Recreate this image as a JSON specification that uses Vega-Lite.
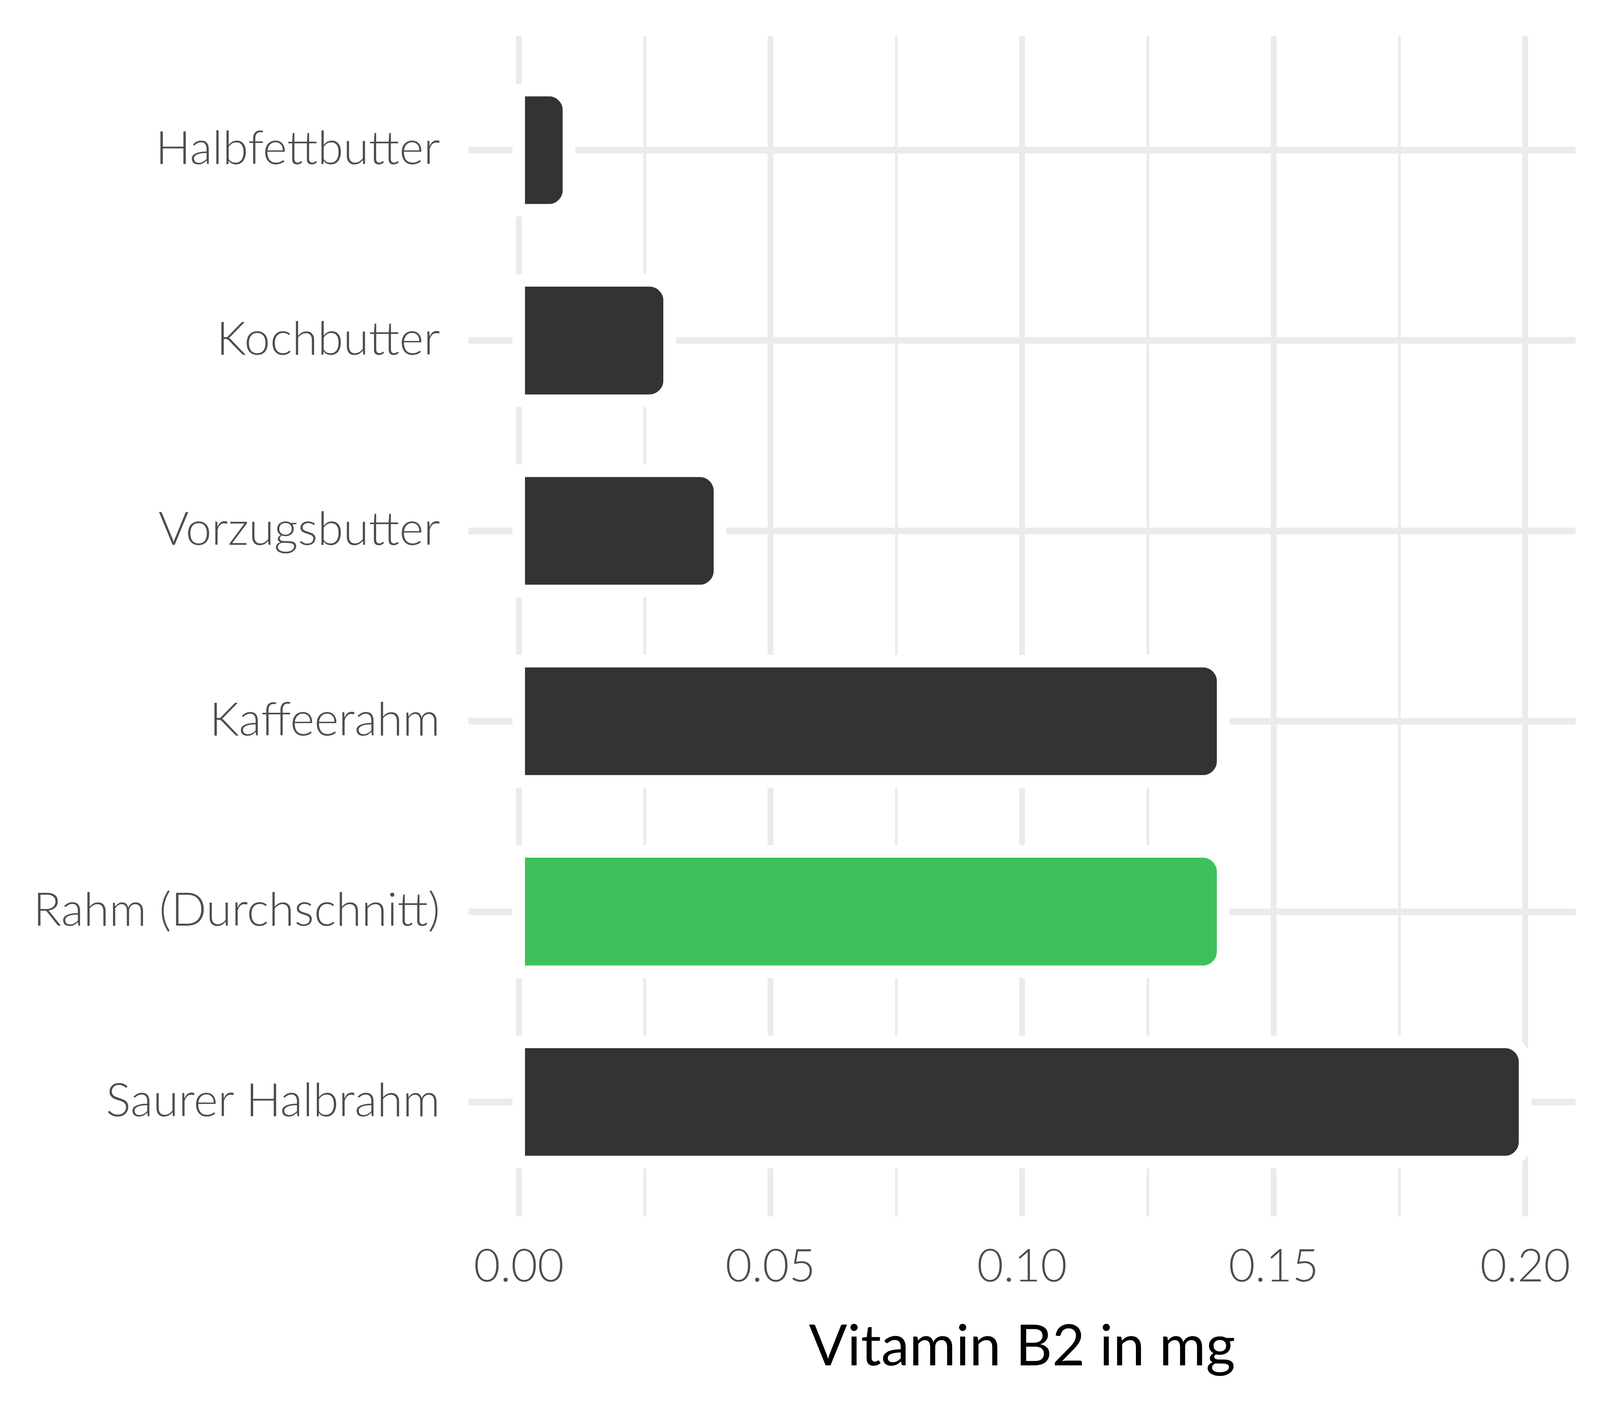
{
  "$schema": "https://vega.github.io/schema/vega-lite/v6.json",
  "autosize": {"type": "fit", "contains": "padding"},
  "width": "container",
  "height": 3600,
  "padding": {"left": 84, "top": 92, "right": 63, "bottom": 76},
  "background": "white",
  "config": {"view": {"stroke": null}, "font": "Lato"},
  "data": {"values": [
    {"name": "Halbfettbutter", "value": 0.01, "group": "other"},
    {"name": "Kochbutter", "value": 0.03, "group": "other"},
    {"name": "Vorzugsbutter", "value": 0.04, "group": "other"},
    {"name": "Kaffeerahm", "value": 0.14, "group": "other"},
    {"name": "Rahm (Durchschnitt)", "value": 0.14, "group": "highlight"},
    {"name": "Saurer Halbrahm", "value": 0.2, "group": "other"}
  ]},
  "resolve": {"axis": {"x": "independent"}},
  "layer": [
    {
      "mark": {"type": "tick", "opacity": 0},
      "encoding": {
        "x": {"field": "value", "type": "quantitative",
              "scale": {"domain": [-0.01, 0.21], "nice": false, "zero": false},
              "axis": {"orient": "top", "values": [0.025, 0.075, 0.125, 0.175], "labels": false, "ticks": false, "domain": false, "title": null, "grid": true, "gridColor": "#EBEBEB", "gridWidth": 7}},
        "y": {"field": "name", "type": "nominal", "sort": null,
              "scale": {"paddingInner": 0.368, "paddingOuter": 0.284},
              "axis": {"title": null, "domain": false, "ticks": false, "grid": true, "gridColor": "#EBEBEB", "gridWidth": 17, "labelFont": "Lato", "labelFontWeight": 300, "labelFontSize": 119, "labelColor": "#4D4D4D", "labelPadding": 73, "labelLimit": 0}}
      }
    },
    {
      "mark": {"type": "bar", "stroke": "white", "strokeWidth": 32, "cornerRadiusEnd": 52},
      "encoding": {
        "x": {"field": "value", "type": "quantitative",
              "scale": {"domain": [-0.01, 0.21], "nice": false, "zero": false},
              "axis": {"orient": "bottom", "values": [0, 0.05, 0.1, 0.15, 0.2], "format": ".2f", "ticks": false, "domain": false, "grid": true, "gridColor": "#EBEBEB", "gridWidth": 15, "labelFont": "Lato", "labelFontWeight": 300, "labelFontSize": 117, "labelColor": "#4D4D4D", "labelPadding": 74, "labelLimit": 0, "title": "Vitamin B2 in mg", "titleFont": "Lato", "titleFontSize": 145, "titleFontWeight": "normal", "titleColor": "black", "titlePadding": 77}},
        "y": {"field": "name", "type": "nominal", "sort": null},
        "color": {"field": "group", "type": "nominal", "scale": {"domain": ["other", "highlight"], "range": ["#333333", "#3DC15A"]}, "legend": null}
      }
    }
  ]
}
